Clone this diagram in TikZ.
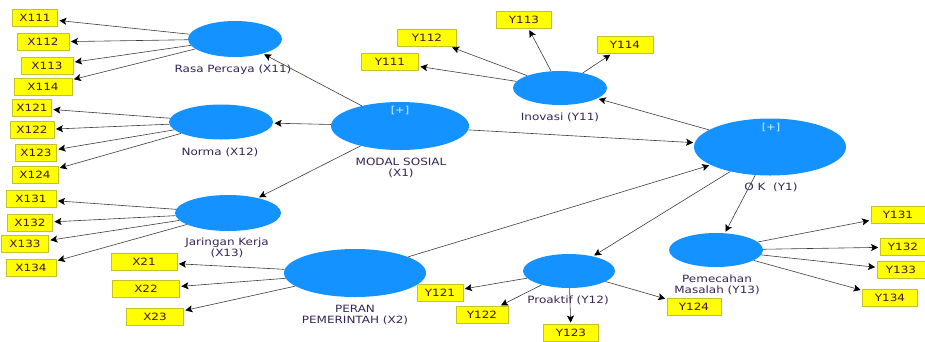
\documentclass[tikz,border=0pt]{standalone}
\usepackage{fontspec}
\setmainfont{DejaVu Sans}[FakeStretch=1.2]
\usetikzlibrary{shapes.geometric,arrows.meta}

\definecolor{latentBlue}{RGB}{20,146,255}
\definecolor{boxYellow}{RGB}{255,255,0}
\definecolor{boxEdge}{RGB}{195,195,40}
\definecolor{boxInk}{RGB}{70,20,25}
\definecolor{labelInk}{RGB}{55,35,85}
\definecolor{pathGray}{RGB}{60,60,60}

\tikzset{
  latentVar/.style={ellipse,fill=latentBlue,draw=none,inner sep=0pt},
  indicatorBox/.style={rectangle,fill=boxYellow,draw=boxEdge,line width=0.8pt,minimum height=17pt,inner sep=0pt,text=boxInk,font=\fontsize{10}{12}\selectfont},
  latentLabel/.style={text=labelInk,align=center,inner sep=0pt,font=\fontsize{10}{11}\selectfont},
  plusMark/.style={text=white!85!latentBlue,inner sep=0pt,font=\fontsize{9.5}{11}\selectfont},
  pathArrow/.style={-{Stealth[length=7pt,width=7pt,inset=1.5pt,color=black]},draw=pathGray,line width=0.6pt,shorten >=1.5pt}
}

\begin{document}
\begin{tikzpicture}[x=1pt,y=-1pt] % pixel grid, y down
		\useasboundingbox (0,0) rectangle (925,341);
		
		% latent variables
		\node[latentVar,minimum width=138,minimum height=48] (modal) at (400,126) {};	% X1
		\node[latentVar,minimum width=94,minimum height=36] (rasa) at (235,39) {};
		\node[latentVar,minimum width=104,minimum height=35] (norma) at (221,122) {};
		\node[latentVar,minimum width=106,minimum height=36] (jaringan) at (228,213) {};
		\node[latentVar,minimum width=142,minimum height=48] (peran) at (355,273) {};	% X2
		\node[latentVar,minimum width=152,minimum height=57] (ok) at (770,147) {};		% Y1
		\node[latentVar,minimum width=94,minimum height=34] (inovasi) at (560,88) {};
		\node[latentVar,minimum width=92,minimum height=34] (proaktif) at (569,271) {};
		\node[latentVar,minimum width=94,minimum height=34] (pemecahan) at (716,250) {};
		
		\node[plusMark] (modalPlus) at (400,111) {[+]};
		\node[plusMark] (okPlus) at (771,128) {[+]};
		
		% labels
		\node[latentLabel] (rasaText) at (233,70) {Rasa Percaya (X11)};
		\node[latentLabel] (normaText) at (220,152) {Norma (X12)};
		\node[latentLabel] (modalText) at (401,168) {MODAL SOSIAL\\(X1)};
		\node[latentLabel] (jaringanText) at (227,248) {Jaringan Kerja\\(X13)};
		\node[latentLabel] (peranText) at (355,315) {PERAN\\PEMERINTAH (X2)};
		\node[latentLabel] (inovasiText) at (560,117) {Inovasi (Y11)};
		\node[latentLabel] (okText) at (771,187) {O K\ \ (Y1)};
		\node[latentLabel] (proaktifText) at (568,300) {Proaktif (Y12)};
		\node[latentLabel] (pemecahanText) at (717,285) {Pemecahan\\Masalah (Y13)};
		
		% indicators X1
		\node[indicatorBox,minimum width=45] (x111) at (35,18) {X111};
		\node[indicatorBox,minimum width=52] (x112) at (43,42) {X112};
		\node[indicatorBox,minimum width=52] (x113) at (47,66) {X113};
		\node[indicatorBox,minimum width=58] (x114) at (43,87) {X114};
		\node[indicatorBox,minimum width=39] (x121) at (32,108) {X121};
		\node[indicatorBox,minimum width=44] (x122) at (32,130) {X122};
		\node[indicatorBox,minimum width=41] (x123) at (36,153) {X123};
		\node[indicatorBox,minimum width=46] (x124) at (35,175) {X124};
		\node[indicatorBox,minimum width=50] (x131) at (31,199) {X131};
		\node[indicatorBox,minimum width=45] (x132) at (30,223) {X132};
		\node[indicatorBox,minimum width=47] (x133) at (25,244) {X133};
		\node[indicatorBox,minimum width=50] (x134) at (31,268) {X134};
		
		% indicators X2
		\node[indicatorBox,minimum width=66] (x21) at (144,262) {X21};
		\node[indicatorBox,minimum width=67] (x22) at (146,289) {X22};
		\node[indicatorBox,minimum width=57] (x23) at (155,317) {X23};
		
		% indicators Y1
		\node[indicatorBox,minimum width=57] (y111) at (390,62) {Y111};
		\node[indicatorBox,minimum width=59] (y112) at (427,38) {Y112};
		\node[indicatorBox,minimum width=55] (y113) at (524,20) {Y113};
		\node[indicatorBox,minimum width=56] (y114) at (625,45) {Y114};
		\node[indicatorBox,minimum width=46] (y121) at (440,293) {Y121};
		\node[indicatorBox,minimum width=52] (y122) at (482,315) {Y122};
		\node[indicatorBox,minimum width=55] (y123) at (571,333) {Y123};
		\node[indicatorBox,minimum width=54] (y124) at (694,307) {Y124};
		\node[indicatorBox,minimum width=54] (y131) at (898,215) {Y131};
		\node[indicatorBox,minimum width=46] (y132) at (903,247) {Y132};
		\node[indicatorBox,minimum width=48] (y133) at (901,270) {Y133};
		\node[indicatorBox,minimum width=55] (y134) at (890,298) {Y134};
		
		% inner model
		\draw[pathArrow] (modal) -- (rasa);
		\draw[pathArrow] (modal) -- (norma);
		\draw[pathArrow] (modal) -- (jaringan);
		\draw[pathArrow] (modal) -- (ok);
		\draw[pathArrow] (peran) -- (ok);
		\draw[pathArrow] (ok) -- (inovasi);
		\draw[pathArrow] (ok) -- (proaktif);
		\draw[pathArrow] (ok) -- (pemecahan);
		
		% outer model
		\draw[pathArrow] (rasa) -- (x111);
		\draw[pathArrow] (rasa) -- (x112);
		\draw[pathArrow] (rasa) -- (x113);
		\draw[pathArrow] (rasa) -- (x114);
		\draw[pathArrow] (norma) -- (x121);
		\draw[pathArrow] (norma) -- (x122);
		\draw[pathArrow] (norma) -- (x123);
		\draw[pathArrow] (norma) -- (x124);
		\draw[pathArrow] (jaringan) -- (x131);
		\draw[pathArrow] (jaringan) -- (x132);
		\draw[pathArrow] (jaringan) -- (x133);
		\draw[pathArrow] (jaringan) -- (x134);
		\draw[pathArrow] (peran) -- (x21);
		\draw[pathArrow] (peran) -- (x22);
		\draw[pathArrow] (peran) -- (x23);
		\draw[pathArrow] (inovasi) -- (y111);
		\draw[pathArrow] (inovasi) -- (y112);
		\draw[pathArrow] (inovasi) -- (y113);
		\draw[pathArrow] (inovasi) -- (y114);
		\draw[pathArrow] (proaktif) -- (y121);
		\draw[pathArrow] (proaktif) -- (y122);
		\draw[pathArrow] (proaktif) -- (y123);
		\draw[pathArrow] (proaktif) -- (y124);
		\draw[pathArrow] (pemecahan) -- (y131);
		\draw[pathArrow] (pemecahan) -- (y132);
		\draw[pathArrow] (pemecahan) -- (y133);
		\draw[pathArrow] (pemecahan) -- (y134);
\end{tikzpicture}
\end{document}
